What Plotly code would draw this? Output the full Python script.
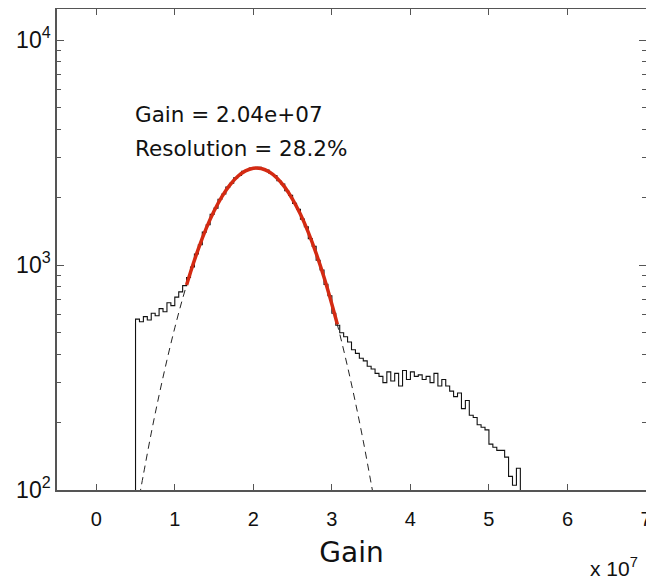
import plotly.graph_objects as go

# Histogram of gain (units of 1e7), bin left edges and counts
bin_edges = [0.50, 0.55, 0.60, 0.65, 0.70, 0.75, 0.80, 0.85, 0.90, 0.95,
             1.00, 1.05, 1.10, 1.15, 1.20, 1.25, 1.30, 1.35, 1.40, 1.45,
             1.50, 1.55, 1.60, 1.65, 1.70, 1.75, 1.80, 1.85, 1.90, 1.95,
             2.00, 2.05, 2.10, 2.15, 2.20, 2.25, 2.30, 2.35, 2.40, 2.45,
             2.50, 2.55, 2.60, 2.65, 2.70, 2.75, 2.80, 2.85, 2.90, 2.95,
             3.00, 3.05, 3.10, 3.15, 3.20, 3.25, 3.30, 3.35, 3.40, 3.45,
             3.50, 3.55, 3.60, 3.65, 3.70, 3.75, 3.80, 3.85, 3.90, 3.95,
             4.00, 4.05, 4.10, 4.15, 4.20, 4.25, 4.30, 4.35, 4.40, 4.45,
             4.50, 4.55, 4.60, 4.65, 4.70, 4.75, 4.80, 4.85, 4.90, 4.95,
             5.00, 5.05, 5.10, 5.15, 5.20, 5.25, 5.30, 5.35, 5.40]
counts = [575, 560, 590, 570, 610, 595, 640, 620, 680, 660,
          720, 760, 810, 880, 980, 1120, 1230, 1400, 1510, 1680,
          1790, 1960, 2070, 2220, 2310, 2440, 2500, 2610, 2630, 2700,
          2680, 2720, 2660, 2640, 2550, 2500, 2370, 2290, 2140, 2040,
          1880, 1770, 1600, 1480, 1310, 1210, 1050, 950, 820, 730,
          610, 540, 500, 480, 455, 420, 405, 385, 375, 355,
          345, 330, 320, 300, 335, 305, 330, 290, 340, 310,
          335, 320, 325, 310, 320, 300, 330, 290, 310, 290,
          275, 260, 270, 230, 250, 215, 210, 195, 190, 185,
          160, 155, 150, 150, 140, 115, 105, 125, 60]

# Gaussian fit (dashed full extent)
gauss_x = [0.55, 0.60, 0.70, 0.80, 0.90, 1.00, 1.10, 1.20, 1.30, 1.40,
           1.50, 1.60, 1.70, 1.80, 1.90, 2.00, 2.10, 2.20, 2.30, 2.40,
           2.50, 2.60, 2.70, 2.80, 2.90, 3.00, 3.10, 3.20, 3.30, 3.40,
           3.50, 3.55]
gauss_y = [94, 117, 179, 264, 378, 526, 710, 929, 1180, 1454,
           1737, 2015, 2267, 2475, 2621, 2694, 2685, 2598, 2438, 2220,
           1960, 1680, 1397, 1127, 882, 670, 494, 353, 245, 165,
           107, 86]

# Fitted range (red)
fit_x = [1.15, 1.20, 1.30, 1.40, 1.50, 1.60, 1.70, 1.80, 1.90, 2.00,
         2.10, 2.20, 2.30, 2.40, 2.50, 2.60, 2.70, 2.80, 2.90, 3.00, 3.07]
fit_y = [815, 929, 1180, 1454, 1737, 2015, 2267, 2475, 2621, 2694,
         2685, 2598, 2438, 2220, 1960, 1680, 1397, 1127, 882, 670, 545]

x_ticks = [0, 1, 2, 3, 4, 5, 6, 7]
y_ticks = [100, 1000, 10000]
y_ticktext = ["10<sup>2</sup>", "10<sup>3</sup>", "10<sup>4</sup>"]

hist_x = [bin_edges[0]] + bin_edges
hist_y = [50] + counts

fig = go.Figure()
fig.add_trace(go.Scatter(x=hist_x, y=hist_y, mode="lines", line_shape="hv",
                         line=dict(color="#111111", width=1.1), hoverinfo="skip"))
fig.add_trace(go.Scatter(x=gauss_x, y=gauss_y, mode="lines", line_shape="spline",
                         line=dict(color="#222222", width=1, dash="7px,5px")))
fig.add_trace(go.Scatter(x=fit_x, y=fit_y, mode="lines", line_shape="spline",
                         line=dict(color="#d42a12", width=3.5)))
# invisible trace so the right-hand mirror axis (with minor ticks) is drawn
fig.add_trace(go.Scatter(x=[fit_x[0]], y=[fit_y[0]], yaxis="y2", mode="lines",
                         line=dict(width=0), hoverinfo="skip", opacity=0))

FONT = "Liberation Sans, Arial, Helvetica, sans-serif"
WIDE = "DejaVu Sans, sans-serif"
axis_font = dict(family=FONT, size=20, color="#111111")
# page body adds an 8px offset; figure is sized/placed to compensate
fig.update_layout(
    width=646, height=575,
    margin=dict(l=49, r=8, t=1, b=93, autoexpand=False),
    paper_bgcolor="white", plot_bgcolor="white",
    showlegend=False,
    font=axis_font,
    xaxis=dict(range=[-0.5, 7], tickvals=x_ticks, ticks="inside", ticklen=6,
               tickcolor="#555555", showline=True, linecolor="#555555", linewidth=1.5,
               mirror="ticks", showgrid=False, zeroline=False, automargin=False,
               tickfont=axis_font, ticklabelstandoff=10,
               title=dict(text="Gain", font=dict(family=WIDE, size=28, color="#111111"),
                          standoff=14)),
    yaxis=dict(type="log", range=[2, 4.138], tickvals=y_ticks, ticktext=y_ticktext,
               ticks="inside", ticklen=7, tickcolor="#555555",
               showline=True, linecolor="#555555", linewidth=1.5,
               mirror=True, showgrid=False, zeroline=False, automargin=False,
               tickfont=dict(family=FONT, size=23, color="#111111"),
               minor=dict(ticks="inside", ticklen=4, tickcolor="#555555", dtick="D1",
                          showgrid=False)),
    yaxis2=dict(type="log", range=[2, 4.138], overlaying="y", side="right",
                tickvals=y_ticks, showticklabels=False,
                ticks="inside", ticklen=7, tickcolor="#555555",
                showline=False, showgrid=False, zeroline=False, automargin=False,
                minor=dict(ticks="inside", ticklen=4, tickcolor="#555555", dtick="D1",
                           showgrid=False)),
    annotations=[
        dict(text="Gain = 2.04e+07", x=0.47, y=3.671, xref="x", yref="y",
             xanchor="left", yanchor="middle", showarrow=False,
             font=dict(family=WIDE, size=21.5, color="#111111")),
        dict(text="Resolution = 28.2%", x=0.47, y=3.516, xref="x", yref="y",
             xanchor="left", yanchor="middle", showarrow=False,
             font=dict(family=WIDE, size=21.5, color="#111111")),
        dict(text="x 10<sup>7</sup>", x=0.99, y=-0.16, xref="paper", yref="paper",
             xanchor="right", yanchor="middle", showarrow=False,
             font=dict(family=FONT, size=21, color="#111111")),
    ],
)

fig.write_html("out.html")
